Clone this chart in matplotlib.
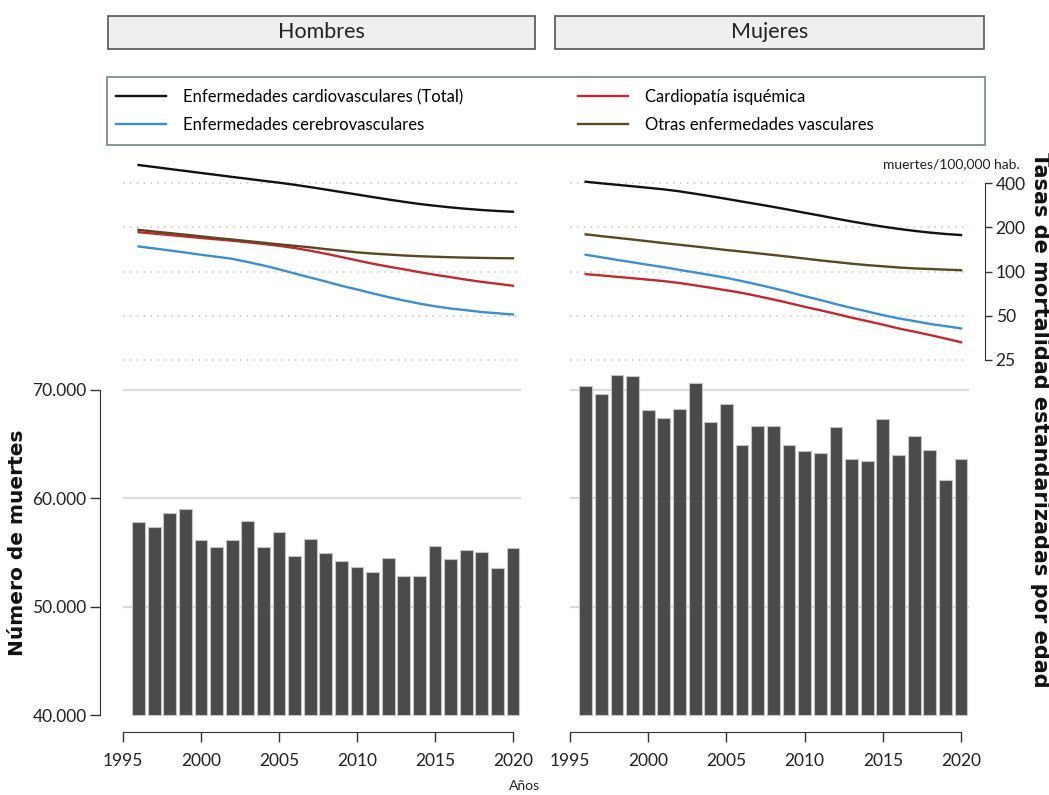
import numpy as np
import matplotlib
matplotlib.use('Agg')
import matplotlib.pyplot as plt
from matplotlib.patches import Rectangle

plt.rcParams['font.family'] = ['Lato', 'DejaVu Sans']

years = list(range(1996, 2021))

# numero de muertes por año
muertes_hombres = [57790, 57350, 58680, 58990, 56150, 55540, 56150, 57880, 55480, 56890,
                   54680, 56220, 54950, 54190, 53690, 53180, 54460, 52850, 52800, 55630,
                   54370, 55230, 55050, 53580, 55450]
muertes_mujeres = [70400, 69630, 71420, 71290, 68150, 67450, 68220, 70620, 67080, 68740,
                   64890, 66710, 66650, 64890, 64370, 64150, 66550, 63630, 63420, 67320,
                   64030, 65790, 64460, 61660, 63600]

# tasas estandarizadas por edad (muertes/100,000 hab.)
total_h = [530, 514, 498, 483, 468, 454, 440, 427, 414, 402, 389, 375, 361, 347, 334,
           321, 309, 298, 288, 280, 273, 267, 262, 258, 255]
isquemica_h = [185, 181, 177, 173, 169, 165.5, 162, 158, 154, 149.5, 144.5, 138.5, 132, 125.5, 119,
               113, 108, 103.5, 99, 95, 91.5, 88, 85, 82.5, 80]
cerebro_h = [148, 143.5, 139, 134.5, 130, 126, 122, 116, 110, 103.5, 97, 91, 85.5, 80, 75.5,
             71, 67, 63.5, 60.5, 58, 56, 54.5, 53, 52, 51]
otras_h = [192, 187, 182.5, 178, 173.5, 169, 165, 161, 157, 153, 149.5, 146, 142, 138.5, 135,
           132.5, 130.5, 128.5, 127, 126, 125, 124.3, 123.7, 123.3, 123]

total_m = [408, 398, 389, 380, 371, 362, 351, 338, 325, 312, 299, 287, 275, 263, 251,
           240, 229, 219, 210, 202, 195, 189, 184, 180, 177]
isquemica_m = [96, 94, 92, 90, 88, 86, 83.5, 80.5, 77.5, 74.5, 71.5, 68, 64.5, 61, 57.5,
               54.5, 51.5, 48.5, 46, 43.5, 41, 39, 37, 35, 33]
cerebro_m = [130, 125, 120, 115.5, 111, 107, 102.5, 98.5, 94.5, 90.5, 86, 81.5, 77, 72.5, 68,
             64, 60, 56.5, 53.5, 50.5, 48, 46, 44, 42.5, 41]
otras_m = [179, 174, 169.5, 165, 160.5, 156, 152, 148, 144, 140, 136.5, 133, 129.5, 126, 122.5,
           119, 116, 113, 110.5, 108.5, 106.5, 105, 104, 103, 102]

panels = ['Hombres', 'Mujeres']
bar_ticks = [40000, 50000, 60000, 70000]
rate_ticks = [25, 50, 100, 200, 400]
year_ticks = [1995, 2000, 2005, 2010, 2015, 2020]

labels = ['Enfermedades cardiovasculares (Total)', 'Cardiopatía isquémica',
          'Enfermedades cerebrovasculares', 'Otras enfermedades vasculares']
colors = ['#111111', '#c4282d', '#3a8fd2', '#5a4820']

W, H = 1049, 795
fig = plt.figure(figsize=(W / 100, H / 100), dpi=100)


def box(l, t, r, b):
    return [l / W, 1 - b / H, (r - l) / W, (b - t) / H]


def fx(x):
    return x / W


def fy(y):
    return 1 - y / H


panel_x = [(107.4, 536.4), (554.4, 984.5)]
data = [
    (muertes_hombres, [total_h, isquemica_h, cerebro_h, otras_h]),
    (muertes_mujeres, [total_m, isquemica_m, cerebro_m, otras_m]),
]

# bar axes: 40000 at px 715, 70000 at px 390
bar_top, bar_bot = 365, 732
per_px = 30000 / 325
bar_ylim = (40000 - (bar_bot - 715) * per_px, 40000 + (715 - bar_top) * per_px)
# log axes: 25 at px 360, 400 at px 183
line_top, line_bot = 150, 372
px_oct = (360 - 183) / 4
line_ylim = (25 * 2 ** (-(line_bot - 360) / px_oct), 400 * 2 ** ((183 - line_top) / px_oct))

handles = {}
for i, (name, (l, r)) in enumerate(zip(panels, panel_x)):
    muertes, series = data[i]

    # header strip
    fig.add_artist(Rectangle((fx(l + 1), fy(49)), fx(r - l - 2), fy(16) - fy(49),
                             transform=fig.transFigure, facecolor='#efefef',
                             edgecolor='#555555', lw=1.2))
    fig.text(fx((l + r) / 2), fy(32), name, ha='center', va='center', fontsize=15.5,
             color='#222222')

    # bars
    axb = fig.add_axes(box(l, bar_top, r, bar_bot))
    axb.patch.set_alpha(0)
    axb.set_xlim(1994, 2021.5)
    axb.set_ylim(*bar_ylim)
    axb.hlines([50000, 60000, 70000], 1995, 2020.5, color='#dadada', lw=1.6, zorder=0)
    axb.bar(years, [m - 40000 for m in muertes], bottom=40000, width=0.82,
            color='#4a4a4a', edgecolor='#c4c4c4', lw=0.8, zorder=2)
    for s in ['top', 'right', 'left']:
        axb.spines[s].set_visible(False)
    axb.spines['bottom'].set_bounds(1995, 2020)
    axb.spines['bottom'].set_color('#333333')
    axb.set_xticks(year_ticks)
    axb.set_xticklabels([str(y) for y in year_ticks])
    axb.tick_params(axis='x', length=7, width=1, color='#333333', pad=8,
                    labelsize=12.5, labelcolor='#222222')
    if i == 0:
        axb.spines['left'].set_visible(True)
        axb.spines['left'].set_position(('outward', 5))
        axb.spines['left'].set_bounds(40000, 70000)
        axb.spines['left'].set_color('#333333')
        axb.set_yticks(bar_ticks)
        axb.set_yticklabels(['{:,}'.format(v).replace(',', '.') for v in bar_ticks])
        axb.tick_params(axis='y', length=7, width=1, color='#333333', pad=3,
                        labelsize=12.5, labelcolor='#222222')
    else:
        axb.set_yticks([])

    # rate lines
    axl = fig.add_axes(box(l, line_top, r, line_bot))
    axl.patch.set_alpha(0)
    axl.set_yscale('log')
    axl.set_xlim(1994, 2021.5)
    axl.set_ylim(*line_ylim)
    axl.hlines(rate_ticks, 1995, 2020.5, color='#c4c4c4', lw=1.1,
               linestyles=(0, (1, 3.5)), zorder=0)
    for s, lab, c in zip(series, labels, colors):
        h, = axl.plot(years, s, color=c, lw=1.7, zorder=3)
        handles[lab] = h
    for s in ['top', 'left', 'bottom', 'right']:
        axl.spines[s].set_visible(False)
    axl.set_xticks([])
    axl.minorticks_off()
    if i == 1:
        axl.spines['right'].set_visible(True)
        axl.spines['right'].set_bounds(25, 400)
        axl.spines['right'].set_color('#333333')
        axl.yaxis.tick_right()
        axl.set_yticks(rate_ticks)
        axl.set_yticklabels([str(v) for v in rate_ticks])
        axl.tick_params(axis='y', which='both', length=5, width=1, color='#333333',
                        pad=3, labelsize=12.5, labelcolor='#222222')
        axl.tick_params(axis='y', which='minor', length=0)
    else:
        axl.set_yticks([])

# legend
fig.add_artist(Rectangle((fx(107), fy(145)), fx(985 - 107), fy(77) - fy(145),
                         transform=fig.transFigure, facecolor='white',
                         edgecolor='#8796a0', lw=1.4))
order = [labels[0], labels[2], labels[1], labels[3]]
fig.legend([handles[k] for k in order], order, loc='upper left',
           bbox_to_anchor=(fx(116), fy(89)), ncol=2, frameon=False, fontsize=12,
           handlelength=3.0, handletextpad=1.0, columnspacing=6.9,
           labelspacing=0.72, borderpad=0, borderaxespad=0)

fig.text(fx(951), fy(164), 'muertes/100,000 hab.', ha='center', va='center',
         fontsize=10, color='#222222')
fig.text(fx(18), fy(543), 'Número de muertes', rotation=90, ha='center', va='center',
         fontsize=14.5, fontweight='bold', family='DejaVu Sans', color='#111111')
fig.text(fx(1040), fy(420), 'Tasas de mortalidad estandarizadas por edad', rotation=-90,
         ha='center', va='center', fontsize=15, fontweight='bold', family='DejaVu Sans',
         color='#111111')
fig.text(fx(525), fy(786), 'Años', ha='center', va='center', fontsize=10, color='#222222')

fig.savefig('out.png', dpi=100)
